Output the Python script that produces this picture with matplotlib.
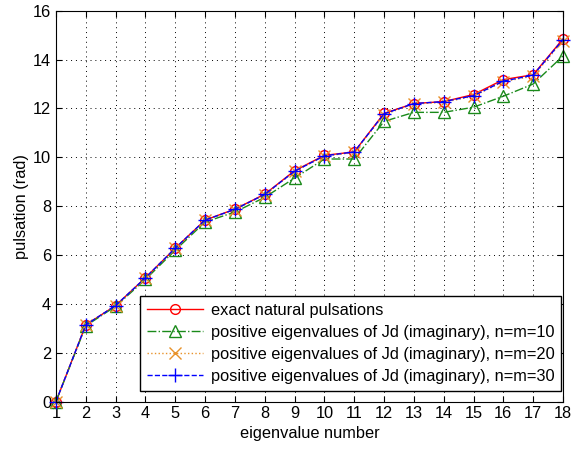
import numpy as np
from matplotlib import pyplot as plt

# eigenvalue index
idx = np.arange(1, 19)

# exact natural pulsations
exact = [0, 3.14, 3.93, 5.07, 6.28, 7.43, 7.88, 8.49, 9.45,
         10.08, 10.22, 11.8, 12.2, 12.28, 12.57, 13.18, 13.38, 14.85]
# positive eigenvalues of Jd (imaginary part)
jd10 = [0, 3.1, 3.9, 5.0, 6.2, 7.35, 7.76, 8.36, 9.15,
        9.93, 9.93, 11.47, 11.84, 11.84, 12.05, 12.5, 13.0, 14.15]
jd20 = [0, 3.14, 3.93, 5.06, 6.27, 7.42, 7.86, 8.47, 9.42,
        10.05, 10.2, 11.75, 12.18, 12.25, 12.5, 13.1, 13.32, 14.78]
jd30 = [0, 3.14, 3.93, 5.07, 6.28, 7.43, 7.87, 8.48, 9.43,
        10.06, 10.22, 11.78, 12.2, 12.28, 12.52, 13.12, 13.36, 14.82]

labels = ["exact natural pulsations",
          "positive eigenvalues of Jd (imaginary), n=m=10",
          "positive eigenvalues of Jd (imaginary), n=m=20",
          "positive eigenvalues of Jd (imaginary), n=m=30"]

plt.rcParams['font.family'] = ['Liberation Sans', 'DejaVu Sans']
fs = 11.8

fig = plt.figure(figsize=(5.71, 4.49), dpi=100)
ax = fig.add_axes([0.098, 0.1056, 0.888, 0.8705])

ax.plot(idx, exact, color="red", linestyle="-", marker="o", mfc="none",
        markersize=7, linewidth=1, label=labels[0], clip_on=False)
ax.plot(idx, jd10, color="#1a8a1a", linestyle="-.", marker="^", mfc="none",
        markersize=8, linewidth=1, label=labels[1], clip_on=False)
ax.plot(idx, jd20, color="#e8922a", linestyle=":", marker="x",
        markersize=8, linewidth=1, label=labels[2], clip_on=False)
ax.plot(idx, jd30, color="blue", linestyle="--", marker="+",
        markersize=10, linewidth=1, label=labels[3], clip_on=False)

ax.set_xlim(1, 18)
ax.set_ylim(0, 16)
ax.set_xticks(idx)
ax.set_yticks(np.arange(0, 17, 2))
ax.grid(True, color="black", linestyle=(0, (1, 4)), linewidth=0.7)
ax.tick_params(direction="in", top=True, right=True, labelsize=fs, length=4)
for s in ax.spines.values():
    s.set_linewidth(0.8)

ax.set_xlabel("eigenvalue number", fontsize=fs, labelpad=3)
ax.set_ylabel("pulsation (rad)", fontsize=fs, labelpad=3)

leg = ax.legend(loc="lower right", bbox_to_anchor=(0.997, 0.028), fontsize=fs,
                fancybox=False, edgecolor="black", framealpha=1,
                handlelength=3.4, borderpad=0.42, labelspacing=0.42,
                handletextpad=0.5, borderaxespad=0)
leg.get_frame().set_linewidth(1)
leg.set_zorder(5)

fig.savefig("out.png", dpi=100)
